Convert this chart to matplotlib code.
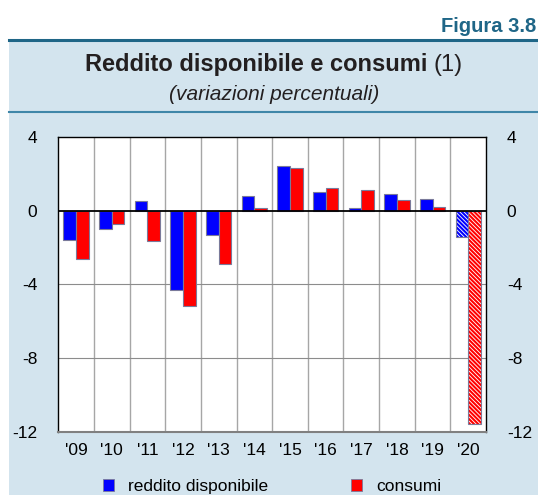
import numpy as np
import matplotlib.pyplot as plt
from matplotlib.patches import Rectangle, Patch
from matplotlib.lines import Line2D

plt.rcParams['font.family'] = ['Liberation Sans', 'DejaVu Sans']
plt.rcParams['hatch.linewidth'] = 1.5
plt.rcParams['axes.unicode_minus'] = False

years = ["'09", "'10", "'11", "'12", "'13", "'14", "'15", "'16", "'17", "'18", "'19", "'20"]
reddito = [-1.6, -1.0, 0.5, -4.3, -1.3, 0.8, 2.45, 1.0, 0.15, 0.9, 0.65, -1.45]
consumi = [-2.65, -0.7, -1.65, -5.2, -2.9, 0.15, 2.3, 1.25, 1.1, 0.6, 0.2, -11.6]
hatched = [False] * 11 + [True]

W, H = 538, 495
panel_col = '#d3e4ee'
line_col = '#1f6687'
blue = '#0000ff'
red = '#ff0000'
edge = '#7a7a9a'

fig = plt.figure(figsize=(W / 100, H / 100), dpi=100)

def fx(px):
    return px / W

def fy(py):
    return 1 - py / H

# background panel and rules
fig.patches.append(Rectangle((fx(9), 0), 1 - fx(9), fy(40), transform=fig.transFigure,
                             facecolor=panel_col, edgecolor='none', zorder=0))
fig.lines.append(Line2D([fx(9), 1], [fy(40), fy(40)], transform=fig.transFigure,
                        color=line_col, lw=2.2))
fig.lines.append(Line2D([fx(9), 1], [fy(112), fy(112)], transform=fig.transFigure,
                        color='#3f86a8', lw=1.5))

fig.text(fx(536), fy(26), 'Figura 3.8', ha='right', va='center', fontsize=14.5,
         fontweight='bold', color=line_col)

# title: bold part + normal "(1)", centred together
tsize = 17
r = fig.canvas.get_renderer()
t1 = fig.text(0, fy(65), 'Reddito disponibile e consumi ', ha='left', va='center',
              fontsize=tsize, fontweight='bold', color='#231f20')
t2 = fig.text(0, fy(65), '(1)', ha='left', va='center', fontsize=tsize, color='#231f20')
w1 = t1.get_window_extent(renderer=r).width
w2 = t2.get_window_extent(renderer=r).width
x0 = 274 - (w1 + w2) / 2
t1.set_x(fx(x0))
t2.set_x(fx(x0 + w1))
fig.text(fx(274), fy(94), '(variazioni percentuali)', ha='center', va='center',
         fontsize=15, fontstyle='italic', color='#231f20')

ax = fig.add_axes([fx(58.3), fy(431.5), fx(486) - fx(58.3), fy(137) - fy(431.5)])
ax.set_zorder(2)
ax.set_facecolor('white')

x = np.arange(len(years))
bw = 0.355
for i in x:
    if hatched[i]:
        ax.bar(i - bw / 2, reddito[i], bw, facecolor='white', edgecolor=blue,
               hatch='\\' * 8, lw=0, zorder=3)
        ax.bar(i + bw / 2, consumi[i], bw, facecolor='white', edgecolor=red,
               hatch='\\' * 8, lw=0, zorder=3)
        ax.bar(i - bw / 2, reddito[i], bw, fill=False, edgecolor=edge, lw=0.8, zorder=4)
        ax.bar(i + bw / 2, consumi[i], bw, fill=False, edgecolor=edge, lw=0.8, zorder=4)
    else:
        ax.bar(i - bw / 2, reddito[i], bw, color=blue, edgecolor=edge, lw=0.8, zorder=3)
        ax.bar(i + bw / 2, consumi[i], bw, color=red, edgecolor=edge, lw=0.8, zorder=3)

ax.set_xlim(-0.5, len(years) - 0.5)
ax.set_ylim(-12, 4)
for b in np.arange(0.5, len(years) - 0.5, 1):
    ax.axvline(b, color='#a6a6a6', lw=1, zorder=1)
for yv in [-4, -8]:
    ax.axhline(yv, color='#8c8c8c', lw=0.8, zorder=1)
ax.axhline(0, color='black', lw=1.3, zorder=5)

ax.set_xticks(x)
ax.set_xticklabels(years)
ax.set_yticks([-12, -8, -4, 0, 4])
ax.tick_params(axis='x', length=0, pad=8, labelsize=12.5)
ax.tick_params(axis='y', length=0, pad=15, labelsize=12.5, right=True, labelright=True)
for s in ['left', 'top', 'right']:
    ax.spines[s].set_color('black')
    ax.spines[s].set_linewidth(1)
ax.spines['bottom'].set_color('#808080')
ax.spines['bottom'].set_linewidth(1.5)

handles = [Patch(facecolor=blue, edgecolor=edge, lw=0.6),
           Patch(facecolor=red, edgecolor=edge, lw=0.6)]
fig.legend(handles, ['reddito disponibile', 'consumi'], loc='center',
           bbox_to_anchor=(fx(272), fy(486.5)), ncol=2, frameon=False,
           fontsize=12.5, handlelength=0.65, handleheight=0.65, handletextpad=0.8,
           columnspacing=4.8, borderpad=0)

fig.savefig('out.png', dpi=100, facecolor='white')
